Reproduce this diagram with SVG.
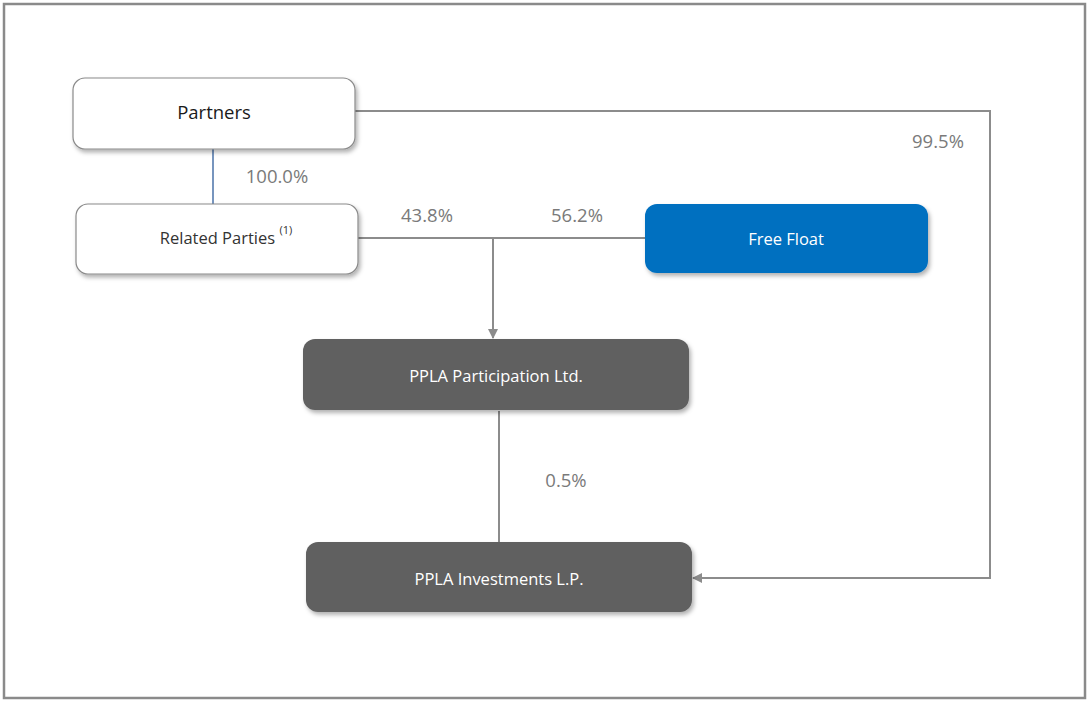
<svg xmlns="http://www.w3.org/2000/svg" width="1089" height="702" viewBox="0 0 1089 702">
<style>
.lbl{font-family:"Open Sans","Noto Sans",sans-serif;font-size:18.5px;fill:#7a7a7a;text-anchor:middle}
.nt{font-family:"Open Sans","Noto Sans",sans-serif;font-size:16.5px;text-anchor:middle}
.w{fill:#ffffff;stroke:#8a8a8a;stroke-width:1.2}
.conn{fill:none;stroke:#8c8c8c;stroke-width:2}
</style>
<defs>
<filter id="sh" x="-10%" y="-20%" width="125%" height="150%">
<feDropShadow dx="2" dy="3" stdDeviation="2" flood-color="#000" flood-opacity="0.3"/>
</filter>
<marker id="ar" viewBox="0 0 10 10" refX="9" refY="5" markerWidth="5" markerHeight="5" orient="auto">
<path d="M0,0L10,5L0,10z" fill="#8c8c8c"/>
</marker>
</defs>
<rect x="0" y="0" width="1089" height="702" fill="#ffffff"/>
<rect x="4" y="4" width="1081" height="694" fill="none" stroke="#8a8a8a" stroke-width="2.5"/>
<g id="connectors">
<line x1="213" y1="149" x2="213" y2="204" stroke="#4a72a8" stroke-width="1.5"/>
<line class="conn" x1="358" y1="238" x2="645" y2="238"/>
<line class="conn" x1="493" y1="238" x2="493" y2="338" marker-end="url(#ar)"/>
<line class="conn" x1="499" y1="411" x2="499" y2="542"/>
<polyline class="conn" points="355,111 990,111 990,578 693,578" marker-end="url(#ar)"/>
</g>
<g id="partners">
<rect class="w" x="73" y="78" width="282" height="71" rx="12" filter="url(#sh)"/>
<text class="nt" x="214" y="119" fill="#1a1a1a" style="font-size:18.5px">Partners</text>
</g>
<g id="related">
<rect class="w" x="76" y="204" width="282" height="70" rx="12" filter="url(#sh)"/>
<text class="nt" x="226" y="244" fill="#333">Related Parties <tspan font-size="11" dy="-10">(1)</tspan></text>
</g>
<g id="freefloat">
<rect x="645" y="204" width="283" height="69" rx="12" fill="#0070c0" filter="url(#sh)"/>
<text class="nt" x="786" y="245" fill="#ffffff">Free Float</text>
</g>
<g id="participation">
<rect x="303" y="339" width="386" height="71" rx="12" fill="#606060" filter="url(#sh)"/>
<text class="nt" x="496" y="382" fill="#ffffff">PPLA Participation Ltd.</text>
</g>
<g id="investments">
<rect x="306" y="542" width="386" height="70" rx="12" fill="#606060" filter="url(#sh)"/>
<text class="nt" x="499" y="585" fill="#ffffff">PPLA Investments L.P.</text>
</g>
<g id="labels">
<text class="lbl" x="277" y="183">100.0%</text>
<text class="lbl" x="427" y="222">43.8%</text>
<text class="lbl" x="577" y="222">56.2%</text>
<text class="lbl" x="938" y="148">99.5%</text>
<text class="lbl" x="566" y="487">0.5%</text>
</g>
</svg>
